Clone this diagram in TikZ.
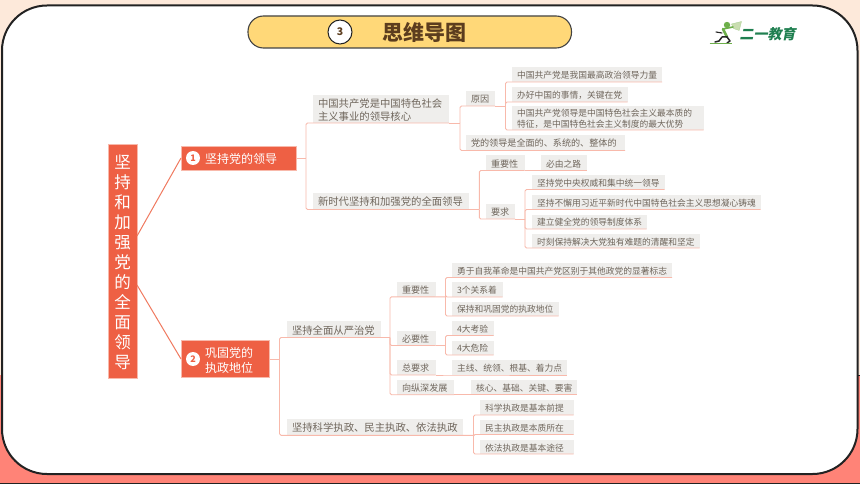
\documentclass[tikz,border=0pt]{standalone}
\usepackage{fontspec}
\setmainfont{Noto Sans CJK SC}
\newfontfamily\cjk{Noto Sans CJK SC}
\newfontfamily\logof[FakeSlant=0.2]{Noto Sans CJK SC}
\definecolor{peach}{HTML}{FDE9DA}
\definecolor{salmon}{HTML}{FF8377}
\definecolor{framec}{HTML}{222222}
\definecolor{pillc}{HTML}{FFD878}
\definecolor{headc}{HTML}{5C3D1E}
\definecolor{orangec}{HTML}{EE6044}
\definecolor{linec}{HTML}{F8B9AB}
\definecolor{rootl}{HTML}{F07A60}
\definecolor{boxc}{HTML}{EFEEEC}
\definecolor{txtc}{HTML}{6F665C}
\definecolor{logog}{HTML}{1F7F50}
\definecolor{logol}{HTML}{6DAF4A}
\definecolor{logof}{HTML}{C9DDB0}
\tikzset{
  anybox/.style={anchor=north west,inner xsep=5pt,inner ysep=0pt,outer sep=0pt,align=left,execute at begin node={\rule{0pt}{1.0em}}},
  greybox/.style={anybox,fill=boxc,text=txtc},
  leafbox/.style={greybox,font=\fontsize{8.75}{11}\selectfont},
  midbox/.style={greybox,font=\fontsize{9.1}{11}\selectfont},
  bigbox/.style={greybox,font=\fontsize{10.35}{13}\selectfont},
  topicbox/.style={anybox,fill=orangec,text=white,draw=linec,line width=0.4pt,inner xsep=0pt,font=\fontsize{12}{15}\selectfont},
  rootbox/.style={anybox,fill=orangec,text=white,draw=linec,line width=0.4pt,inner xsep=0pt,align=center,font=\fontsize{16.5}{20}\selectfont},
  numdot/.style={circle,fill=white,text=orangec,inner sep=0pt,minimum size=14pt,font=\fontsize{9}{9}\selectfont\bfseries},
  conn/.style={draw=linec,line width=0.9pt,rounded corners=1.5pt},
  rootconn/.style={draw=rootl,line width=1pt}
}
\newcommand{\nbox}[7][]{%
  \pgfmathsetmacro{\nbw}{#5-#3}%
  \pgfmathsetmacro{\nbh}{#6-#4}%
  \pgfmathsetmacro{\nbt}{#5-#3-10}%
  \node[leafbox,#1,minimum width=\nbw pt,minimum height=\nbh pt,text width=\nbt pt] (#2) at (#3,#4) {#7};%
}
\newcommand{\branch}[2]{\draw[conn] (#1) |- (#2.south west) -- (#2.south east);}
\begin{document}
\begin{tikzpicture}[x=1pt,y=-1pt]
\useasboundingbox (0,0) rectangle (860,484);
% background
\fill[peach] (0,0) rectangle (860,375);
\fill[salmon] (0,375) rectangle (860,484);
\fill[framec] (0,482.5) rectangle (860,484);
\fill[framec] (857,374.5) rectangle (860,375.5);
\draw[framec,line width=2pt,fill=white,rounded corners=45pt] (2,5.5) rectangle (857.5,474);
% title pill
\draw[draw=framec!85,line width=1.1pt,fill=pillc,rounded corners=15.5pt] (248,16) rectangle (571.5,48);
\node[circle,draw=framec,line width=1pt,fill=white,text=headc,minimum size=24pt,inner sep=0pt,font=\fontsize{10.5}{11}\selectfont\bfseries] (num3) at (340,32) {3};
\node[text=headc,inner sep=0pt,font=\fontsize{21}{22}\selectfont\bfseries] (ttl) at (424.5,32) {思维导图};
% logo
\fill[logof,draw=logol!60,line width=0.3pt] (731.5,24) -- (741.5,21.5) -- (739.2,30.5) -- (733.5,28.5) -- cycle;
\fill[logol] (727,25) circle (3.2);
\draw[logol,line width=1.6pt,line cap=round] (723,29) -- (733,27);
\draw[logol,line width=2.6pt,line cap=round] (723,29) -- (727,37);
\draw[black!85,line width=1.5pt,line cap=round,line join=round] (727,37) -- (722,37) -- (719,41) -- (715,42);
\draw[black!85,line width=1.5pt,line cap=round,line join=round] (727,37) -- (730,41) -- (727,43);
\draw[black!85,line width=1.1pt,line cap=round] (722,33) -- (716,32);
\draw[logol,line width=0.6pt] (709.5,43.5) -- (732,43.5);
\node[text=logog,inner sep=0pt,font=\fontsize{14}{15}\logof\bfseries] (logotxt) at (767.5,34.5) {二一教育};
% root and topics
\node[rootbox,minimum width=29pt,minimum height=233.5pt,text width=29pt] (root) at (108,144.5) {坚\\持\\和\\加\\强\\党\\的\\全\\面\\领\\导};
\node[topicbox,minimum width=115pt,minimum height=24pt,text width=115pt] (t1) at (181,146) {\hspace*{24pt}坚持党的领导};
\node[topicbox,minimum width=88.5pt,minimum height=37pt,text width=88.5pt] (t2) at (181,340.5) {\hspace*{24pt}巩固党的\\\hspace*{24pt}执政地位};
\node[numdot,execute at begin node={}] (d1) at (193,158) {1};
\node[numdot,execute at begin node={}] (d2) at (193,359) {2};
\coordinate (r1) at (137,236);
\coordinate (r2) at (137,285);
\draw[rootconn] (r1) -- (t1.west);
\draw[rootconn] (r2) -- (t2.west);
% level 2 of branch 1
\nbox[bigbox]{a1}{313}{95}{449}{123}{中国共产党是中国特色社会\\主义事业的领导核心}
\nbox[bigbox]{a2}{313}{193}{469}{209.5}{新时代坚持和加强党的全面领导}
\nbox[midbox]{a11}{466}{91}{495}{106}{原因}
\nbox[midbox]{a12}{466}{135}{625}{150.5}{党的领导是全面的、系统的、整体的}
\nbox{a111}{512}{67.5}{662}{82}{中国共产党是我国最高政治领导力量}
\nbox{a112}{512}{87}{627.5}{102}{办好中国的事情，关键在党}
\nbox{a113}{512}{106.5}{703.5}{130}{中国共产党领导是中国特色社会主义最本质的\\特征，是中国特色社会主义制度的最大优势}
\nbox[midbox]{a21}{486}{155.5}{524.5}{170.5}{重要性}
\nbox{a211}{541}{155.5}{586.5}{170.5}{必由之路}
\nbox[midbox]{a22}{486}{204}{515}{219}{要求}
\nbox{a221}{532}{175.5}{664.5}{189.5}{坚持党中央权威和集中统一领导}
\nbox{a222}{532}{195}{760.5}{209.5}{坚持不懈用习近平新时代中国特色社会主义思想凝心铸魂}
\nbox{a223}{532}{214.5}{646.5}{229}{建立健全党的领导制度体系}
\nbox{a224}{532}{234}{699.5}{248}{时刻保持解决大党独有难题的清醒和坚定}
% level 2 of branch 2
\nbox[bigbox]{b1}{287}{321}{381}{337.5}{坚持全面从严治党}
\nbox[bigbox]{b2}{287}{419}{463}{435.3}{坚持科学执政、民主执政、依法执政}
\nbox[midbox]{b11}{397}{282}{435.5}{296.8}{重要性}
\nbox{b111}{452}{263}{672}{277.5}{勇于自我革命是中国共产党区别于其他政党的显著标志}
\nbox{b112}{452}{282}{502.5}{297}{3个关系着}
\nbox{b113}{452}{301.5}{558.5}{316}{保持和巩固党的执政地位}
\nbox[midbox]{b12}{397}{331}{435.5}{345.5}{必要性}
\nbox{b121}{452}{321}{493.5}{335.5}{4大考验}
\nbox{b122}{452}{340.5}{493.5}{355}{4大危险}
\nbox[midbox]{b13}{397}{360}{435.5}{375}{总要求}
\nbox{b131}{452}{360}{567}{375}{主线、统领、根基、着力点}
\nbox[midbox]{b14}{397}{380}{454}{394.7}{向纵深发展}
\nbox{b141}{471}{380}{577}{394.7}{核心、基础、关键、要害}
\nbox{b21}{480}{400}{573.5}{415}{科学执政是基本前提}
\nbox{b22}{480}{420}{573.5}{434.5}{民主执政是本质所在}
\nbox{b23}{480}{440}{573.5}{454}{依法执政是基本途径}
% trunks
\coordinate (ja) at (306,158);
\coordinate (ja1) at (460,123);
\coordinate (ja11) at (505.5,106);
\coordinate (ja2) at (479.3,209.5);
\coordinate (ja22) at (525,219);
\coordinate (jb) at (279.5,359);
\coordinate (jb1) at (390,337.5);
\coordinate (jb11) at (445.5,296.8);
\coordinate (jb12) at (445.5,345.5);
\coordinate (jb2) at (473.5,435.3);
% connectors
\draw[conn] (t1.east) -- (ja);
\branch{ja}{a1}\branch{ja}{a2}
\draw[conn] (a1.south east) -- (ja1);
\branch{ja1}{a11}\branch{ja1}{a12}
\draw[conn] (a11.south east) -- (ja11);
\branch{ja11}{a111}\branch{ja11}{a112}\branch{ja11}{a113}
\draw[conn] (a2.south east) -- (ja2);
\branch{ja2}{a21}\branch{ja2}{a22}
\draw[conn] (a21.south east) -- (a211.south west) -- (a211.south east);
\draw[conn] (a22.south east) -- (ja22);
\branch{ja22}{a221}\branch{ja22}{a222}\branch{ja22}{a223}\branch{ja22}{a224}
\draw[conn] (t2.east) -- (jb);
\branch{jb}{b1}\branch{jb}{b2}
\draw[conn] (b1.south east) -- (jb1);
\branch{jb1}{b11}\branch{jb1}{b12}\branch{jb1}{b13}\branch{jb1}{b14}
\draw[conn] (b11.south east) -- (jb11);
\branch{jb11}{b111}\branch{jb11}{b112}\branch{jb11}{b113}
\draw[conn] (b12.south east) -- (jb12);
\branch{jb12}{b121}\branch{jb12}{b122}
\draw[conn] (b13.south east) -- (b131.south west) -- (b131.south east);
\draw[conn] (b14.south east) -- (b141.south west) -- (b141.south east);
\draw[conn] (b2.south east) -- (jb2);
\branch{jb2}{b21}\branch{jb2}{b22}\branch{jb2}{b23}
\end{tikzpicture}
\end{document}
